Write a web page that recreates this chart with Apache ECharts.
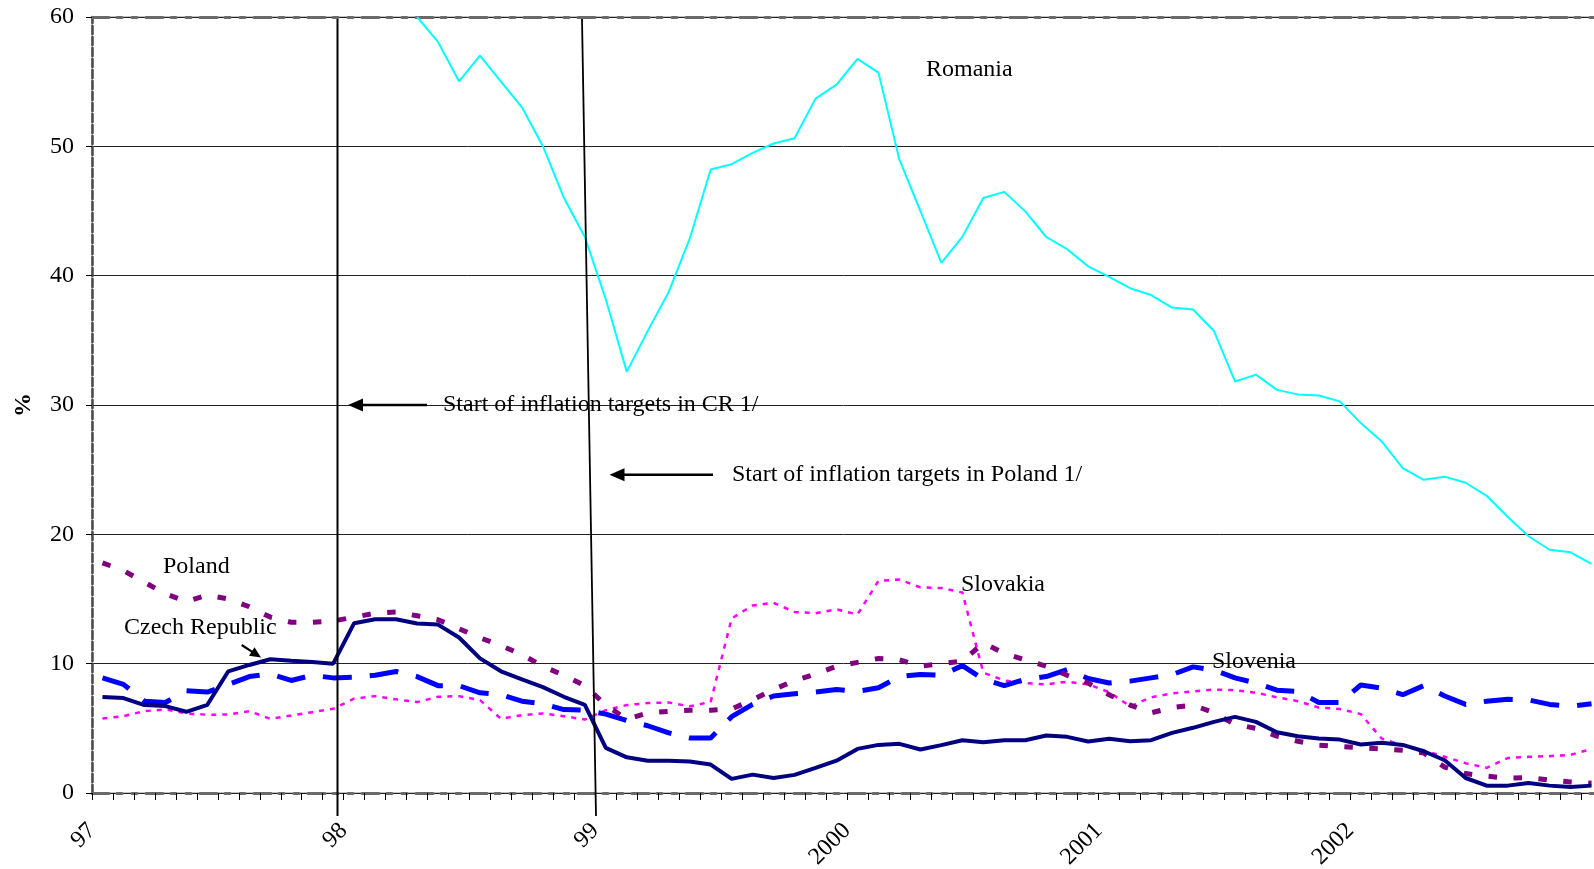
<!DOCTYPE html>
<html>
<head>
<meta charset="utf-8">
<script src="https://cdn.jsdelivr.net/npm/echarts/dist/echarts.min.js"></script>
<style>
html,body{margin:0;padding:0;background:#fff;}
#chart{width:1594px;height:869px;}
</style>
</head>
<body>
<div id="chart"></div>
<script>
// Year tick labels (one per 12 months, starting January 1997)
const yearLabels = ['97', '98', '99', '2000', '2001', '2002'];

// Monthly year-on-year inflation, Jan 1997 .. Dec 2002 (72 months), in %
const czech = [7.42, 7.34, 6.80, 6.72, 6.28, 6.82, 9.41, 9.90, 10.34, 10.23, 10.13, 10.00,
  13.13, 13.44, 13.44, 13.10, 13.02, 12.02, 10.41, 9.41, 8.79, 8.19, 7.44, 6.82,
  3.49, 2.76, 2.50, 2.50, 2.43, 2.20, 1.09, 1.42, 1.16, 1.40, 1.94, 2.50,
  3.41, 3.72, 3.80, 3.36, 3.70, 4.08, 3.93, 4.08, 4.08, 4.44, 4.34, 3.98,
  4.19, 4.00, 4.08, 4.65, 5.04, 5.50, 5.89, 5.50, 4.70, 4.39, 4.21, 4.13,
  3.75, 3.88, 3.72, 3.23, 2.53, 1.16, 0.57, 0.57, 0.78, 0.57, 0.47, 0.57];

const poland = [17.8, 17.2, 16.3, 15.4, 14.8, 15.3, 15.0, 14.4, 13.6, 13.2, 13.2, 13.3,
  13.6, 13.9, 14.0, 13.7, 13.4, 12.7, 12.0, 11.4, 10.7, 9.8, 9.1, 8.3,
  6.8, 5.7, 6.2, 6.3, 6.4, 6.4, 6.5, 7.2, 8.0, 8.7, 9.2, 9.8,
  10.1, 10.4, 10.3, 9.8, 10.0, 10.2, 11.6, 10.8, 10.3, 9.8, 9.1, 8.5,
  7.6, 6.8, 6.2, 6.6, 6.8, 6.2, 5.3, 5.0, 4.4, 4.0, 3.7, 3.6,
  3.5, 3.4, 3.3, 3.1, 2.0, 1.5, 1.3, 1.15, 1.2, 1.0, 0.85, 0.75];

const slovenia = [8.9, 8.4, 7.1, 7.0, 7.9, 7.8, 8.4, 9.0, 9.2, 8.7, 9.1, 8.9,
  8.95, 9.1, 9.4, 9.0, 8.3, 8.3, 7.75, 7.6, 7.1, 6.9, 6.45, 6.4,
  6.1, 5.6, 5.2, 4.65, 4.26, 4.26, 5.9, 6.85, 7.5, 7.67, 7.8, 8.0,
  7.85, 8.14, 9.0, 9.17, 9.1, 9.85, 8.8, 8.3, 8.8, 9.0, 9.55, 8.85,
  8.5, 8.65, 8.9, 9.15, 9.75, 9.5, 8.9, 8.5, 7.95, 7.85, 7.0, 7.0,
  8.35, 8.1, 7.6, 8.3, 7.5, 6.85, 7.1, 7.25, 7.2, 6.85, 6.7, 6.9];

const slovakia = [5.76, 5.94, 6.33, 6.46, 6.15, 6.05, 6.07, 6.33, 5.74, 5.99, 6.25, 6.51,
  7.29, 7.49, 7.24, 7.03, 7.44, 7.49, 7.18, 5.74, 6.02, 6.15, 5.94, 5.68,
  6.4, 6.8, 6.95, 7.0, 6.7, 7.05, 13.5, 14.5, 14.7, 14.0, 13.9, 14.2,
  13.8, 16.4, 16.5, 15.9, 15.85, 15.5, 9.3, 8.7, 8.5, 8.4, 8.6, 8.4,
  7.8, 6.7, 7.4, 7.7, 7.85, 8.0, 7.95, 7.75, 7.4, 7.1, 6.6, 6.5,
  6.1, 4.2, 3.7, 3.3, 2.8, 2.3, 1.95, 2.7, 2.8, 2.85, 2.95, 3.4];

// Romania is off the 0-60 scale until spring 1998
const romania = [null, null, null, null, null, null, null, null, null, null, null, null,
  null, null, null, 60.0, 58.07, 55.03, 57.01, 55.0, 53.02, 50.01, 46.02, 42.99,
  38.17, 32.56, 35.73, 38.74, 42.86, 48.21, 48.62, 49.5, 50.22, 50.63, 53.69, 54.77,
  56.76, 55.7, 48.97, 45.0, 40.98, 43.0, 46.01, 46.48, 44.97, 42.99, 42.05, 40.72,
  39.9, 39.03, 38.5, 37.53, 37.38, 35.72, 31.82, 32.35, 31.17, 30.82, 30.73, 30.28,
  28.6, 27.18, 25.11, 24.22, 24.46, 23.99, 22.98, 21.36, 19.85, 18.81, 18.61, 17.72];

const FONT = 'Liberation Serif';
const toPoints = arr => arr.map((v, i) => [i + 0.5, v]);

function arrow(x1, y1, x2, y2, headLen, headW, width) {
  const dx = x2 - x1, dy = y2 - y1, L = Math.hypot(dx, dy);
  const ux = dx / L, uy = dy / L, px = -uy, py = ux;
  const bx = x2 - ux * headLen, by = y2 - uy * headLen;
  return [
    {type: 'line', shape: {x1: x1, y1: y1, x2: bx + ux, y2: by + uy},
     style: {stroke: '#000', lineWidth: width}, z: 100},
    {type: 'polygon', shape: {points: [[x2, y2], [bx + px * headW, by + py * headW], [bx - px * headW, by - py * headW]]},
     style: {fill: '#000'}, z: 100}
  ];
}
function label(text, x, y) {
  return {type: 'text', x: x, y: y, z: 100,
    style: {text: text, font: '24px "' + FONT + '"', fill: '#000', textAlign: 'left', textVerticalAlign: 'middle'}};
}

const axisDash = {color: '#6a6a6a', width: 3, type: [17, 8, 5, 10, 5, 9]};

const chart = echarts.init(document.getElementById('chart'), null, {renderer: 'canvas'});
chart.setOption({
  animation: false,
  backgroundColor: '#fff',
  grid: {left: 92, top: 17, width: 1510, height: 776, containLabel: false, outerBoundsMode: 'none',
         show: true, borderColor: '#888', borderWidth: 1},
  xAxis: [{
    type: 'value', min: 0, max: 72, interval: 12, position: 'bottom',
    axisLine: {show: true, onZero: false, lineStyle: axisDash},
    axisTick: {show: true, inside: false, length: 7, lineStyle: {color: '#000', width: 1}},
    minorTick: {show: true, splitNumber: 12, length: 7, lineStyle: {color: '#000', width: 1}},
    splitLine: {show: false}, minorSplitLine: {show: false},
    axisLabel: {rotate: 45, margin: 34, fontSize: 24, fontFamily: FONT, color: '#000',
      showMaxLabel: false,
      formatter: v => (yearLabels[Math.round(v / 12)] || '')}
  }, {
    type: 'value', min: 0, max: 72, position: 'top',
    axisLine: {show: true, onZero: false, lineStyle: axisDash},
    axisTick: {show: false}, axisLabel: {show: false}, splitLine: {show: false}
  }],
  yAxis: {
    type: 'value', min: 0, max: 60, interval: 10,
    name: '%', nameLocation: 'middle', nameGap: 56, nameRotate: 90,
    nameTextStyle: {fontFamily: FONT, fontWeight: 'bold', fontSize: 24, color: '#000'},
    axisLine: {show: true, onZero: false, lineStyle: {color: '#4a4a4a', width: 2.5, type: [8, 3]}},
    axisTick: {show: true, length: 6, lineStyle: {color: '#000', width: 1}},
    axisLabel: {margin: 18, fontSize: 24, fontFamily: FONT, color: '#000'},
    splitLine: {show: true, lineStyle: {color: '#222', width: 1}}
  },
  series: [
    {name: 'Slovakia', type: 'line', data: toPoints(slovakia), symbol: 'none', z: 3,
     lineStyle: {color: '#ff00ff', width: 2.5, type: [5, 6]}},
    {name: 'Slovenia', type: 'line', data: toPoints(slovenia), symbol: 'none', z: 4,
     lineStyle: {color: '#0000ff', width: 5, type: [29, 18]}},
    {name: 'Poland', type: 'line', data: toPoints(poland), symbol: 'none', z: 5,
     lineStyle: {color: '#800080', width: 5, type: [8.5, 16.5]}},
    {name: 'Czech Republic', type: 'line', data: toPoints(czech), symbol: 'none', z: 6,
     lineStyle: {color: '#000080', width: 4}},
    {name: 'Romania', type: 'line', data: toPoints(romania), symbol: 'none', z: 7, connectNulls: false,
     lineStyle: {color: '#00ffff', width: 2}}
  ],
  graphic: [
    {type: 'line', z: 100, shape: {x1: 337.5, y1: 19, x2: 337.5, y2: 816}, style: {stroke: '#000', lineWidth: 2}},
    {type: 'line', z: 100, shape: {x1: 582, y1: 19, x2: 596, y2: 816}, style: {stroke: '#000', lineWidth: 1.8}},
    ...arrow(427, 405, 348, 405, 15, 6.5, 2.6),
    ...arrow(713, 474.7, 609.5, 474.7, 15, 6.5, 2.6),
    ...arrow(241.7, 645, 261, 657.5, 11, 5, 2.2),
    label('Start of inflation targets in CR 1/', 443, 405),
    label('Start of inflation targets in Poland 1/', 732, 475),
    label('Romania', 926, 70),
    label('Poland', 163, 567),
    label('Czech Republic', 124, 628),
    label('Slovakia', 961, 585),
    label('Slovenia', 1212, 662)
  ]
});
</script>
</body>
</html>
